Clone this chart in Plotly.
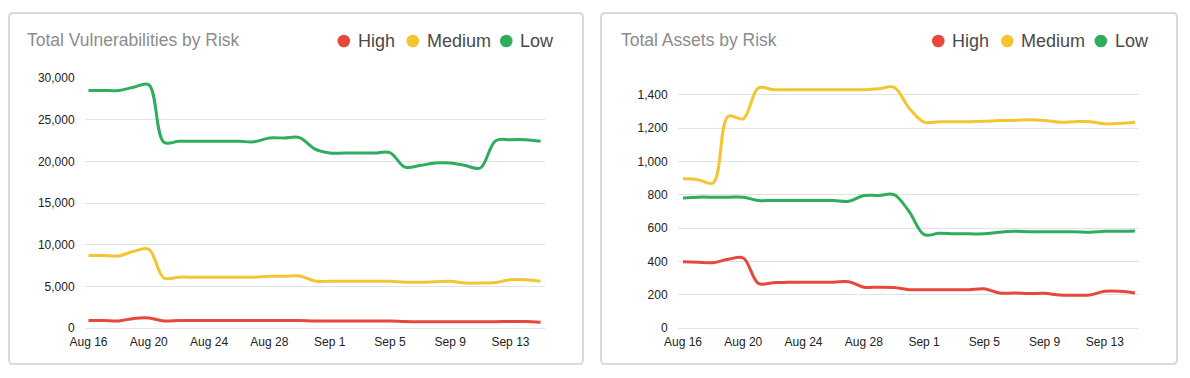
import pandas as pd
import plotly.graph_objects as go

# ---------------- data ----------------
dates = pd.date_range("2018-08-16", "2018-09-15", freq="D")

vuln_high = [900, 900, 850, 1150, 1200, 850, 900, 900, 900, 900, 900, 900, 900, 900, 900,
             850, 850, 850, 850, 850, 850, 780, 750, 750, 750, 750, 750, 760, 780, 780, 700]
vuln_medium = [8700, 8700, 8650, 9200, 9450, 6000, 6100, 6100, 6100, 6100, 6100, 6100, 6200, 6200, 6250,
               5650, 5600, 5600, 5600, 5600, 5600, 5500, 5500, 5550, 5600, 5400, 5400, 5450, 5800, 5800, 5600]
vuln_low = [28500, 28500, 28500, 28900, 29200, 22300, 22400, 22400, 22400, 22400, 22400, 22350, 22800, 22800, 22850,
            21500, 21000, 21000, 21000, 21000, 21050, 19300, 19500, 19800, 19800, 19500, 19200, 22450, 22600, 22600, 22400]

asset_high = [398, 395, 392, 412, 420, 268, 272, 275, 275, 275, 275, 278, 245, 245, 243,
              230, 230, 230, 230, 230, 235, 210, 210, 207, 208, 198, 197, 198, 220, 220, 210]
asset_medium = [895, 890, 870, 1270, 1255, 1440, 1430, 1430, 1430, 1430, 1430, 1430, 1430, 1435, 1445,
                1320, 1235, 1238, 1238, 1238, 1240, 1245, 1245, 1250, 1245, 1235, 1238, 1238, 1225, 1228, 1235]
asset_low = [780, 785, 785, 785, 785, 765, 765, 765, 765, 765, 765, 760, 795, 795, 800,
             700, 560, 568, 565, 565, 565, 575, 580, 578, 578, 578, 577, 575, 580, 580, 582]

series_names = ["High", "Medium", "Low"]
colors = {"High": "#e8473d", "Medium": "#f5c531", "Low": "#2ead5f"}
titles = ["Total Vulnerabilities by Risk", "Total Assets by Risk"]

W, H = 1190, 378
FONT = "Liberation Sans, Arial, Helvetica, sans-serif"

def px(x):
    return x / W

def py(y):
    return 1 - y / H

fig = go.Figure()

panels = [
    dict(data={"High": vuln_high, "Medium": vuln_medium, "Low": vuln_low},
         xa="x", ya="y", dom=(85, 545), yrange=[0, 30000], dtick=5000,
         pad_l=3.5, pad_r=4.4, card=(9, 583), legend_x=[337.5, 406.5, 500], title_x=25),
    dict(data={"High": asset_high, "Medium": asset_medium, "Low": asset_low},
         xa="x2", ya="y2", dom=(678, 1139), yrange=[0, 1500], dtick=200,
         pad_l=5, pad_r=4, card=(601, 1177), legend_x=[932, 1001, 1094.5], title_x=619),
]

shapes = []
annotations = []
day_px = 15.07

for i, p in enumerate(panels):
    for name in series_names:
        fig.add_trace(go.Scatter(
            x=dates, y=p["data"][name], name=name, mode="lines",
            line=dict(color=colors[name], width=3, shape="spline", smoothing=1),
            xaxis=p["xa"], yaxis=p["ya"], showlegend=False,
            hovertemplate="%{x|%b %-d}: %{y:,}<extra>" + name + "</extra>"))

    # card border with rounded corners
    x0, x1 = p["card"]
    y0, y1 = 13, 364
    r = 4
    path = (f"M {px(x0 + r)} {py(y0)} L {px(x1 - r)} {py(y0)} "
            f"Q {px(x1)} {py(y0)} {px(x1)} {py(y0 + r)} L {px(x1)} {py(y1 - r)} "
            f"Q {px(x1)} {py(y1)} {px(x1 - r)} {py(y1)} L {px(x0 + r)} {py(y1)} "
            f"Q {px(x0)} {py(y1)} {px(x0)} {py(y1 - r)} L {px(x0)} {py(y0 + r)} "
            f"Q {px(x0)} {py(y0)} {px(x0 + r)} {py(y0)} Z")
    shapes.append(dict(type="path", xref="paper", yref="paper", path=path,
                       line=dict(color="#dadada", width=2), layer="below"))

    # title
    annotations.append(dict(text=titles[i], xref="paper", yref="paper",
                            x=px(p["title_x"]), y=py(40), xanchor="left", yanchor="middle",
                            showarrow=False, font=dict(size=17.5, color="#8c8c8c", family=FONT)))

    # legend (dot + label)
    for name, lx in zip(series_names, p["legend_x"]):
        cx = lx + 6.3
        shapes.append(dict(type="circle", xref="paper", yref="paper",
                           xsizemode="pixel", ysizemode="pixel",
                           xanchor=px(cx), yanchor=py(41),
                           x0=-6.3, x1=6.3, y0=-6.3, y1=6.3,
                           fillcolor=colors[name], line=dict(width=0)))
        annotations.append(dict(text=name, xref="paper", yref="paper",
                                x=px(cx + 12), y=py(41.5), xanchor="left", yanchor="middle",
                                showarrow=False, font=dict(size=18, color="#4a4a4a", family=FONT)))

    # axes
    start = dates[0] - pd.Timedelta(hours=24 * p["pad_l"] / day_px)
    end = dates[-1] + pd.Timedelta(hours=24 * p["pad_r"] / day_px)
    xsuffix = "" if i == 0 else "2"
    fig.update_layout(**{
        "xaxis" + xsuffix: dict(
            domain=[px(p["dom"][0]), px(p["dom"][1])], anchor=p["ya"],
            type="date", range=[start, end], tick0=dates[0], dtick=4 * 86400000,
            tickformat="%b %-d", showgrid=False, zeroline=False, showline=False,
            ticks="outside", ticklen=3, tickcolor="rgba(0,0,0,0)", automargin=False,
            tickfont=dict(size=12, color="#222", family=FONT)),
        "yaxis" + xsuffix: dict(
            domain=[50 / H, 300 / H], anchor=p["xa"], range=p["yrange"],
            dtick=p["dtick"], tick0=0, tickformat=",d", automargin=False,
            showgrid=True, gridcolor="#e2e2e2", gridwidth=1,
            zeroline=True, zerolinecolor="#e2e2e2", zerolinewidth=1, showline=False,
            ticks="outside", ticklen=7, tickcolor="rgba(0,0,0,0)",
            tickfont=dict(size=12, color="#222", family=FONT)),
    })

fig.update_layout(
    width=W, height=H, margin=dict(l=0, r=0, t=0, b=0, pad=0, autoexpand=False),
    paper_bgcolor="white", plot_bgcolor="white",
    shapes=shapes, annotations=annotations, showlegend=False,
    font=dict(family=FONT),
)

fig.write_html("out.html",
               config={"displayModeBar": False},
               post_script="document.body.style.margin='0';document.body.style.overflow='hidden';")
